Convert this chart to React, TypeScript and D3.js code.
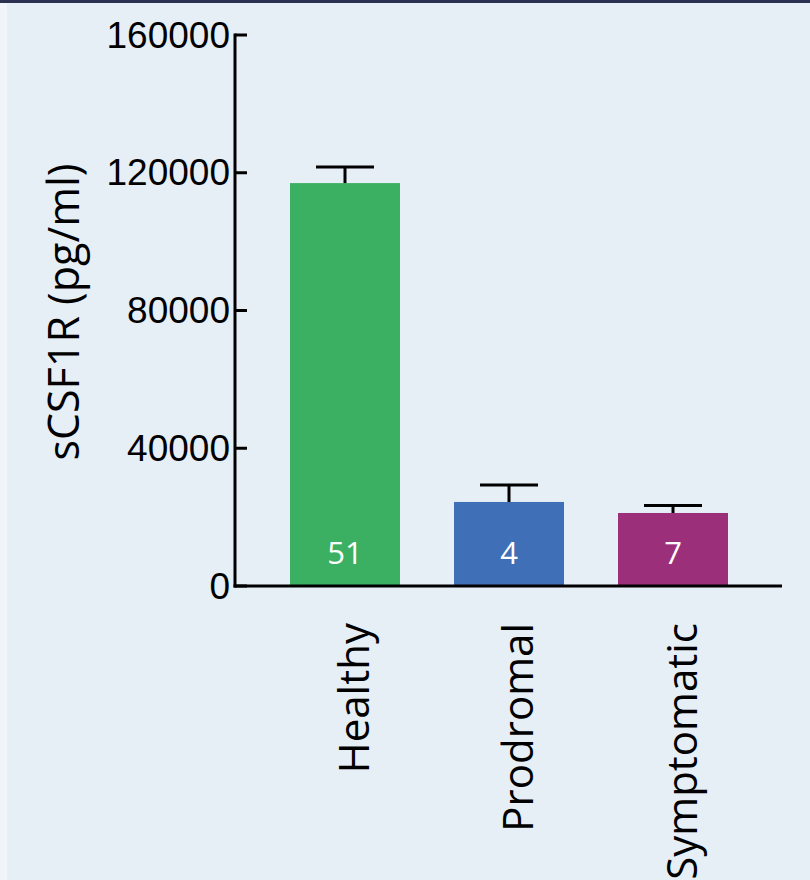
import React from "react";
import * as d3 from "d3";

const categories = ["Healthy", "Prodromal", "Symptomatic"];
const means = [117000, 24400, 21200];
const sems = [4700, 4900, 2200];
const counts = ["51", "4", "7"];
const colors = ["#3cb062", "#3f6fb6", "#9c2f7a"];
const yTicks = [0, 40000, 80000, 120000, 160000];

const W = 810;
const H = 880;

export default function App() {
  const y = d3.scaleLinear().domain([0, 160000]).range([586, 35]);
  const x = d3
    .scaleBand<string>()
    .domain(categories)
    .range([263, 755])
    .paddingInner(0.3293)
    .paddingOuter(0.1646);
  const bw = x.bandwidth();
  const capW = 58;
  const axisX = 235;
  const sans = "'Liberation Sans', Arial, sans-serif";
  const body = "'Open Sans', 'Noto Sans', sans-serif";

  return (
    <svg
      width={W}
      height={H}
      style={{ position: "absolute", left: 0, top: 0, display: "block" }}
    >
      <rect x={0} y={0} width={W} height={H} fill="#e6eef6" />
      <rect x={0} y={0} width={7} height={H} fill="#f1f5fa" />
      <rect x={0} y={0} width={W} height={3} fill="#2b3150" />

      {categories.map((c, i) => {
        const cx = (x(c) as number) + bw / 2;
        return (
          <g key={c}>
            <rect
              x={x(c)}
              y={y(means[i])}
              width={bw}
              height={y(0) - y(means[i])}
              fill={colors[i]}
            />
            <line
              x1={cx}
              x2={cx}
              y1={y(means[i])}
              y2={y(means[i] + sems[i])}
              stroke="#000"
              strokeWidth={3}
            />
            <line
              x1={cx - capW / 2}
              x2={cx + capW / 2}
              y1={y(means[i] + sems[i])}
              y2={y(means[i] + sems[i])}
              stroke="#000"
              strokeWidth={3}
            />
            <text
              x={cx}
              y={y(0) - 34}
              fill="#fff"
              fontFamily={body}
              fontSize={31}
              textAnchor="middle"
              dominantBaseline="central"
            >
              {counts[i]}
            </text>
            <text
              transform={`translate(${cx + 24},623) rotate(-90)`}
              fontFamily={body}
              fontSize={42}
              textAnchor="end"
              fill="#000"
            >
              {c}
            </text>
          </g>
        );
      })}

      {/* y axis */}
      <line x1={axisX} x2={axisX} y1={y(160000) - 1.5} y2={y(0) + 1.5} stroke="#000" strokeWidth={3} />
      {yTicks.map((t) => (
        <g key={t}>
          <line x1={axisX} x2={axisX + 12} y1={y(t)} y2={y(t)} stroke="#000" strokeWidth={3} />
          <text
            x={axisX - 5}
            y={y(t)}
            fontFamily={sans}
            fontSize={37}
            textAnchor="end"
            dominantBaseline="central"
            fill="#000"
          >
            {t}
          </text>
        </g>
      ))}
      {/* x axis */}
      <line x1={axisX - 1.5} x2={782} y1={y(0)} y2={y(0)} stroke="#000" strokeWidth={3} />

      <text
        transform="translate(79,312) rotate(-90)"
        fontFamily={body}
        fontSize={43}
        textAnchor="middle"
        fill="#000"
      >
        sCSF1R (pg/ml)
      </text>
    </svg>
  );
}
